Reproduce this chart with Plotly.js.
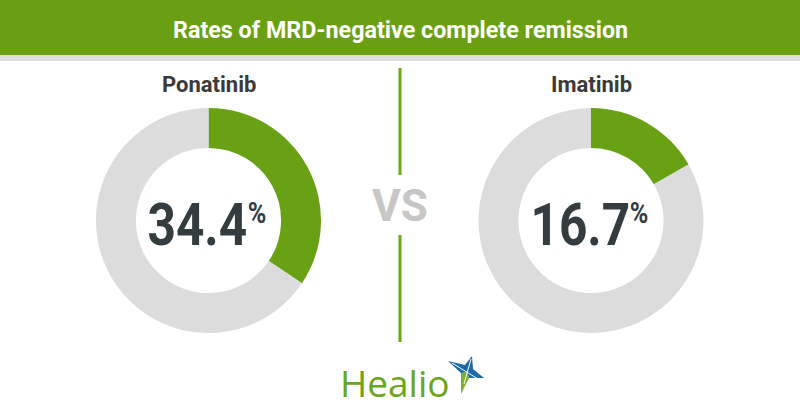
<!DOCTYPE html>
<html>
<head>
<meta charset="utf-8">
<script src="https://cdn.plot.ly/plotly-3.0.1.min.js"></script>
<style>
  html, body { margin: 0; padding: 0; background: #ffffff; }
  #chart { width: 800px; height: 420px; }
</style>
</head>
<body>
<div id="chart"></div>
<script>
// ---- data ----
const chartTitle = 'Rates of MRD-negative complete remission';
const drugs = ['Ponatinib', 'Imatinib'];
const rates = [34.4, 16.7];           // % MRD-negative complete remission
const sliceLabels = ['MRD-negative CR', 'Other'];
const vsLabel = 'VS';
const brand = 'Healio';

// ---- styling ----
const W = 800, H = 420;
const GREEN = '#6a9f12';
const DONUT_GREEN = '#69a114';
const GREY = '#dcdcdc';
const DARK = '#353c3f';
const px = x => x / W;
const py = y => 1 - y / H;
const NUMFONT = 'Roboto, Arial, sans-serif';
const SQUEEZE = 0.84;   // condensed look for the big numbers

// donut geometry (pixels)
const centers = [[208.5, 220.5], [591, 220.5]];
const R = 112.5;

const traces = drugs.map((d, i) => ({
  type: 'pie',
  name: d,
  labels: sliceLabels,
  values: [rates[i], 100 - rates[i]],
  sort: false,
  direction: 'clockwise',
  rotation: 0,
  hole: 0.645,
  textinfo: 'none',
  hoverinfo: 'label+value',
  showlegend: false,
  marker: { colors: [DONUT_GREEN, GREY], line: { width: 0 } },
  domain: {
    x: [px(centers[i][0] - R), px(centers[i][0] + R)],
    y: [py(centers[i][1] + R), py(centers[i][1] - R)]
  }
}));

const annotations = [];
// title
annotations.push({
  text: chartTitle, xref: 'paper', yref: 'paper', x: 0.5, y: py(30),
  xanchor: 'center', yanchor: 'middle', showarrow: false,
  font: { family: 'Roboto, Arial, sans-serif', size: 23.3, color: '#ffffff', weight: 700 }
});
drugs.forEach((d, i) => {
  const [cx, cy] = centers[i];
  annotations.push({
    text: d, xref: 'paper', yref: 'paper', x: px(cx), y: py(85),
    xanchor: 'center', yanchor: 'middle', showarrow: false,
    font: { family: 'Roboto, Arial, sans-serif', size: 22, color: '#3a3a3a', weight: 700 }
  });
  annotations.push({
    text: rates[i].toFixed(1), xref: 'paper', yref: 'paper', x: px(cx - 11), y: py(224),
    xanchor: 'center', yanchor: 'middle', showarrow: false, name: 'num', borderpad: 0,
    font: { family: NUMFONT, size: 59, color: DARK, weight: 700 }
  });
  annotations.push({
    text: '%', xref: 'paper', yref: 'paper', x: px(cx + 48), y: py(212),
    xanchor: 'center', yanchor: 'middle', showarrow: false, name: 'num', borderpad: 0,
    font: { family: NUMFONT, size: 30, color: DARK, weight: 700 }
  });
});
annotations.push({
  text: vsLabel, xref: 'paper', yref: 'paper', x: 0.5, y: py(206),
  xanchor: 'center', yanchor: 'middle', showarrow: false,
  font: { family: 'Roboto, Arial, sans-serif', size: 44, color: '#c6c6c6', weight: 700 }
});
annotations.push({
  text: brand, xref: 'paper', yref: 'paper', x: px(395), y: py(382),
  xanchor: 'center', yanchor: 'middle', showarrow: false,
  font: { family: '"Open Sans", Lato, sans-serif', size: 37, color: '#6aa51c' }
});

function path(pts) {
  return 'M' + pts.map(p => px(p[0]).toFixed(5) + ',' + py(p[1]).toFixed(5)).join(' L') + ' Z';
}

const shapes = [
  { type: 'rect', xref: 'paper', yref: 'paper', x0: 0, x1: 1, y0: py(55), y1: 1, fillcolor: GREEN, line: { width: 0 }, layer: 'below' },
  { type: 'rect', xref: 'paper', yref: 'paper', x0: 0, x1: 1, y0: py(61), y1: py(55), fillcolor: '#dedede', line: { width: 0 }, layer: 'below' },
  { type: 'line', xref: 'paper', yref: 'paper', x0: 0.5, x1: 0.5, y0: py(68), y1: py(175), line: { color: '#6aa71a', width: 3 } },
  { type: 'line', xref: 'paper', yref: 'paper', x0: 0.5, x1: 0.5, y0: py(235), y1: py(342), line: { color: '#6aa71a', width: 3 } },
  // logo star
  { type: 'path', xref: 'paper', yref: 'paper', fillcolor: '#7ab02a', line: { width: 0 },
    path: path([[461, 373], [467, 372], [469, 378], [461, 394]]) },
  { type: 'path', xref: 'paper', yref: 'paper', fillcolor: '#1d6aa8', line: { width: 0 },
    path: path([[448, 361], [465, 365], [472, 356], [473, 369], [484, 378], [469, 378], [467, 372], [461, 373]]) },
  { type: 'line', xref: 'paper', yref: 'paper', x0: px(452), y0: py(363), x1: px(478), y1: py(379), line: { color: '#ffffff', width: 1 } },
  { type: 'line', xref: 'paper', yref: 'paper', x0: px(471), y0: py(359), x1: px(464), y1: py(384), line: { color: '#ffffff', width: 1 } }
];

const layout = {
  width: W, height: H,
  margin: { l: 0, r: 0, t: 0, b: 0 },
  paper_bgcolor: '#ffffff',
  plot_bgcolor: '#ffffff',
  showlegend: false,
  annotations: annotations,
  shapes: shapes
};

Plotly.newPlot('chart', traces, layout, { displayModeBar: false, staticPlot: true }).then(gd => {
  // give the big percentage figures a condensed appearance (scale whole annotation box)
  const groups = gd.querySelectorAll('.annotation');
  groups.forEach((g, idx) => {
    const ann = layout.annotations[idx];
    if (!ann || ann.name !== 'num') return;
    const tg = g.querySelector('.annotation-text-g');
    if (!tg) return;
    const bb = tg.getBBox();
    const c = bb.x + bb.width / 2;
    const prev = tg.getAttribute('transform') || '';
    tg.setAttribute('transform', `${prev} translate(${c},0) scale(${SQUEEZE},1) translate(${-c},0)`.trim());
  });
});
</script>
</body>
</html>
